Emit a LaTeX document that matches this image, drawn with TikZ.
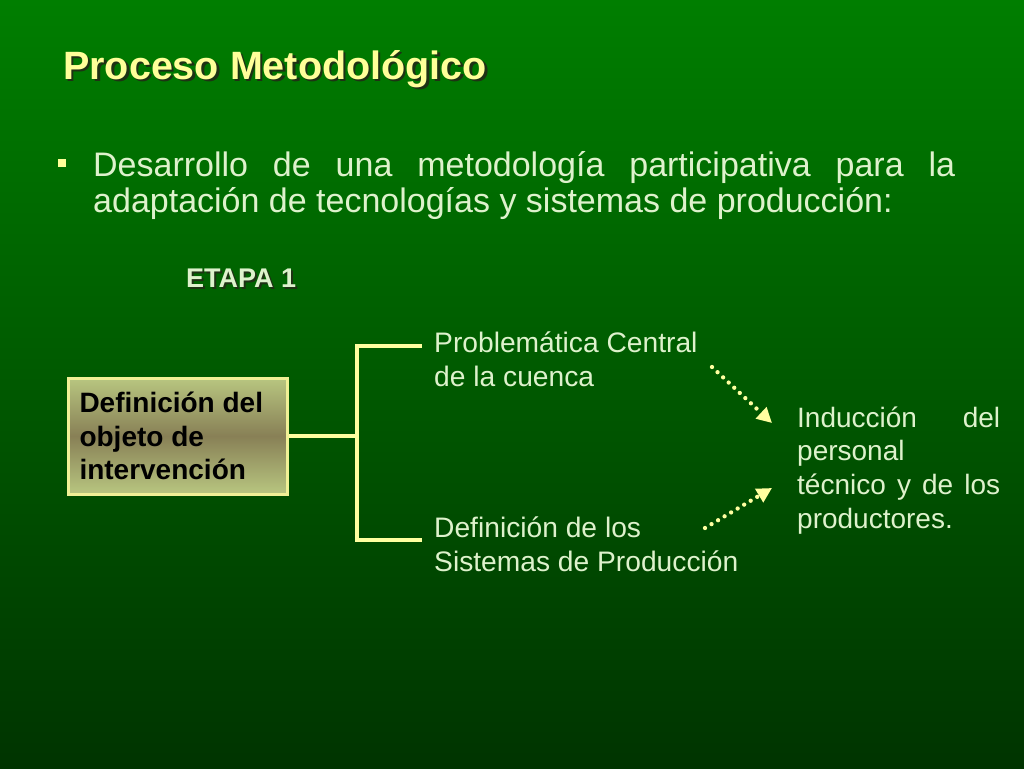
\documentclass[tikz,border=0pt]{standalone}
\usepackage{fontspec}
\setmainfont{Liberation Sans}
\usetikzlibrary{arrows.meta}
\definecolor{bgtop}{RGB}{0,126,0}
\definecolor{bgbot}{RGB}{0,52,0}
\definecolor{ttl}{RGB}{255,255,153}
\definecolor{txt}{RGB}{222,242,204}
\definecolor{lin}{RGB}{255,255,160}
\definecolor{boxlt}{RGB}{184,198,128}
\definecolor{boxdk}{RGB}{136,128,86}
\definecolor{boxbd}{RGB}{240,240,150}
\definecolor{shd}{RGB}{30,50,20}
\newcommand{\shadowed}[2]{\makebox[0pt][l]{\kern#1\raisebox{-#1}{\textcolor{shd}{#2}}}#2}
\begin{document}
\begin{tikzpicture}[x=1pt,y=-1pt,
  ttlstyle/.style={text=ttl, inner sep=0, anchor=base west, font=\fontsize{39.5}{44}\selectfont\bfseries},
  etapastyle/.style={text=txt, inner sep=0, anchor=base west, font=\fontsize{27}{30}\selectfont\bfseries},
  bodytext/.style={text=txt, inner sep=0, anchor=base west, font=\fontsize{34}{36}\selectfont},
  diagtext/.style={text=txt, inner sep=0, anchor=base west, font=\fontsize{28.2}{34.5}\selectfont},
  objbox/.style={rectangle, minimum width=219pt, minimum height=116pt, inner sep=0,
    draw=boxbd, line width=3pt, top color=boxlt, bottom color=boxlt, middle color=boxdk,
    text=black, font=\fontsize{28}{33.5}\selectfont\bfseries},
  bracket/.style={draw=lin, line width=3.8pt},
  dotarrow/.style={draw=lin, line width=4.3pt, line cap=round, dash pattern=on 0pt off 7.6pt,
    -{Triangle[length=15pt,width=15pt]}},
  bulletsq/.style={fill=ttl, draw=none, minimum size=8pt, inner sep=0}
]
\useasboundingbox (0,0) rectangle (1024,768);
\shade[top color=bgtop, bottom color=bgbot] (0,0) rectangle (1024,768);

% title with shadow
\node[ttlstyle] (title) at (63,79) {\shadowed{2.5pt}{Proceso Metodológico}};

% bullet
\node[bulletsq] (bullet) at (62,163) {};
\node[bodytext] (body) at (93,176) {\parbox[t]{862pt}{\makebox[862pt][s]{Desarrollo de una metodología participativa para la}\\adaptación de tecnologías y sistemas de producción:}};

% ETAPA 1
\node[etapastyle] (etapa) at (186,287) {\shadowed{2pt}{ETAPA 1}};

% box
\node[objbox] (box) at (177.5,436) {\parbox{196pt}{\raggedright Definición del\\objeto de\\intervención}};

% text nodes
\node[diagtext] (prob) at (434,352) {\parbox[t]{300pt}{\raggedright Problemática Central\\de la cuenca}};
\node[diagtext] (sist) at (434,537) {\parbox[t]{320pt}{\raggedright Definición de los\\Sistemas de Producción}};
\node[diagtext, font=\fontsize{28}{33.7}\selectfont] (induc) at (797,427) {\parbox[t]{203pt}{\makebox[203pt][s]{Inducción del}\\personal\\\makebox[203pt][s]{técnico y de los}\\productores.}};

% bracket connectors
\coordinate (j) at (357,436);
\coordinate (pa) at (422,346);
\coordinate (sa) at (422,540);
\draw[bracket] (box.east) -- (j);
\draw[bracket, line join=miter] (pa) -| (j) |- (sa);

% dotted arrows
\coordinate (a1s) at (712,367);
\coordinate (a1e) at (772,423);
\coordinate (a2s) at (705,528);
\coordinate (a2e) at (772,488);
\draw[dotarrow] (a1s) -- (a1e);
\draw[dotarrow] (a2s) -- (a2e);
\end{tikzpicture}
\end{document}
